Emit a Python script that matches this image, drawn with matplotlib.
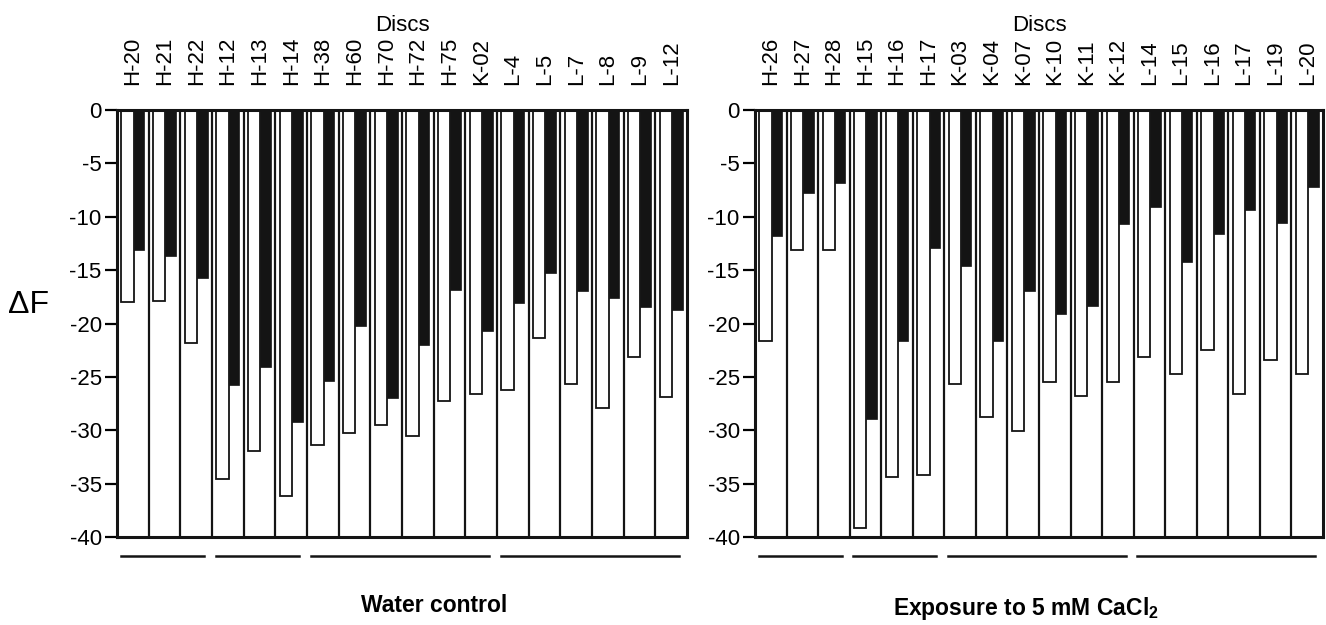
import numpy as np
import matplotlib
matplotlib.use('Agg')
import matplotlib.pyplot as plt

plt.rcParams['font.family'] = ['Liberation Sans', 'DejaVu Sans']
plt.rcParams['axes.unicode_minus'] = False
plt.rcParams['mathtext.fontset'] = 'custom'
plt.rcParams['mathtext.bf'] = 'Liberation Sans:bold'

# 水对照组
water_discs = ['H-20', 'H-21', 'H-22', 'H-12', 'H-13', 'H-14', 'H-38', 'H-60', 'H-70',
               'H-72', 'H-75', 'K-02', 'L-4', 'L-5', 'L-7', 'L-8', 'L-9', 'L-12']
water_white = [-18.0, -17.9, -21.8, -34.6, -31.9, -36.2, -31.4, -30.3, -29.5,
               -30.5, -27.3, -26.6, -26.2, -21.4, -25.7, -27.9, -23.1, -26.9]
water_black = [-13.1, -13.65, -15.7, -25.75, -24.1, -29.25, -25.4, -20.2, -27.0,
               -22.0, -16.9, -20.7, -18.1, -15.3, -17.0, -17.6, -18.5, -18.7]
water_groups = [3, 3, 6, 6]

# CaCl2 处理组
cacl_discs = ['H-26', 'H-27', 'H-28', 'H-15', 'H-16', 'H-17', 'K-03', 'K-04', 'K-07',
              'K-10', 'K-11', 'K-12', 'L-14', 'L-15', 'L-16', 'L-17', 'L-19', 'L-20']
cacl_white = [-21.6, -13.1, -13.1, -39.2, -34.4, -34.2, -25.7, -28.8, -30.1,
              -25.5, -26.75, -25.5, -23.1, -24.7, -22.5, -26.6, -23.4, -24.7]
cacl_black = [-11.8, -7.8, -6.8, -28.9, -21.65, -12.9, -14.6, -21.65, -17.0,
              -19.1, -18.35, -10.7, -9.1, -14.25, -11.65, -9.4, -10.6, -7.2]
cacl_groups = [3, 3, 6, 6]

INK = '#141414'


def draw_panel(ax, discs, white_vals, black_vals, groups):
    n = len(discs)
    x = np.arange(n)
    ax.bar(x + 0.14, white_vals, width=0.39, align='edge', color='white',
           edgecolor=INK, linewidth=1.3, zorder=2)
    ax.bar(x + 0.53, black_vals, width=0.33, align='edge', color=INK,
           edgecolor=INK, linewidth=0.5, zorder=3)
    # 每个样品之间的竖线
    for b in range(1, n):
        ax.axvline(b, color=INK, lw=1.6, zorder=1)

    ax.set_xlim(0, n)
    ax.set_ylim(-40, 0)
    ax.set_yticks(np.arange(0, -41, -5))

    ax.xaxis.tick_top()
    ax.xaxis.set_label_position('top')
    ax.set_xticks(x + 0.5)
    ax.set_xticklabels(discs, rotation=90)
    ax.tick_params(axis='x', length=0, pad=18, labelsize=16)
    ax.tick_params(axis='y', length=9, width=1.6, pad=2, labelsize=16, direction='out')
    ax.set_xlabel('Discs', fontsize=16, labelpad=4)
    for sp in ax.spines.values():
        sp.set_linewidth(2.2)
        sp.set_color(INK)

    # 分组下划线
    start = 0
    for g in groups:
        ax.plot([start + 0.12, start + g - 0.25], [-41.8, -41.8], color=INK,
                lw=1.8, clip_on=False)
        start += g


def main():
    fig = plt.figure(figsize=(13.26, 6.25), dpi=100)
    ax1 = fig.add_axes([117 / 1326, 88 / 625, 570 / 1326, 427 / 625])
    ax2 = fig.add_axes([755 / 1326, 88 / 625, 568 / 1326, 427 / 625])

    draw_panel(ax1, water_discs, water_white, water_black, water_groups)
    draw_panel(ax2, cacl_discs, cacl_white, cacl_black, cacl_groups)

    fig.text(29 / 1326, 1 - 305 / 625, '\u0394F', fontsize=23, ha='center', va='center')
    fig.text(434 / 1326, 1 - 606 / 625, 'Water control', fontsize=16.5, fontweight='bold',
             ha='center', va='center')
    fig.text(1026 / 1326, 1 - 608 / 625, r'Exposure to 5 mM CaCl$_\mathbf{2}$', fontsize=16.5,
             fontweight='bold', ha='center', va='center')

    fig.savefig('out.png', dpi=100)


if __name__ == "__main__":
    main()
